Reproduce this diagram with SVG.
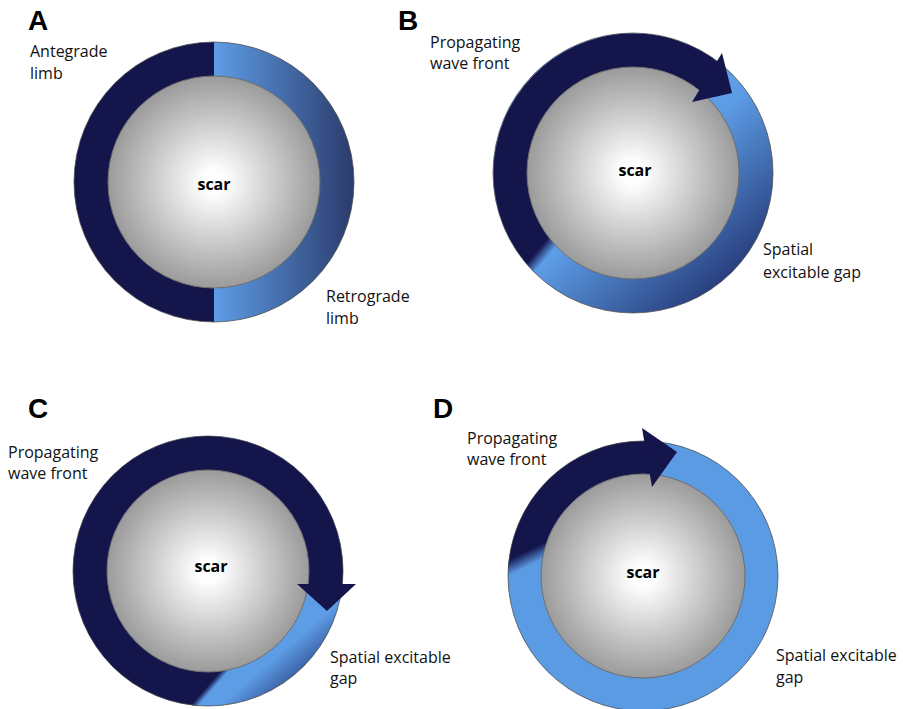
<svg xmlns="http://www.w3.org/2000/svg" width="903" height="709" viewBox="0 0 903 709">
<style>
.dark{fill:#14154b}
.edge{fill:none;stroke:#4a4a4a;stroke-width:1;stroke-opacity:0.75}
.scar{fill:url(#scarGrad);stroke:#6e6e6e;stroke-width:1}
.lbl{font-family:"Open Sans","Noto Sans",sans-serif;font-size:16px;fill:#111}
.scarlbl{font-family:"Open Sans","Noto Sans",sans-serif;font-size:16px;font-weight:bold;text-anchor:middle;fill:#000}
.panel{font-family:"Liberation Sans",Arial,sans-serif;font-size:28px;font-weight:bold;fill:#000}
</style>
<defs>
<radialGradient id="scarGrad" cx="50%" cy="50%" r="50%">
<stop offset="0" stop-color="#ffffff"/>
<stop offset="0.12" stop-color="#fdfdfd"/>
<stop offset="1" stop-color="#9b9b9b"/>
</radialGradient>
<linearGradient id="gA" gradientUnits="userSpaceOnUse" x1="74" y1="0" x2="354" y2="0">
<stop offset="0" stop-color="#14154b"/>
<stop offset="0.5" stop-color="#14154b"/>
<stop offset="0.5" stop-color="#5d9de6"/>
<stop offset="1" stop-color="#2b3b6c"/>
</linearGradient>
<linearGradient id="gB" gradientUnits="userSpaceOnUse" x1="733" y1="100" x2="818" y2="198">
<stop offset="0" stop-color="#5d9de6"/>
<stop offset="1" stop-color="#29407f"/>
</linearGradient>
<linearGradient id="gC" gradientUnits="userSpaceOnUse" x1="327" y1="612" x2="353" y2="642">
<stop offset="0" stop-color="#5d9de6"/>
<stop offset="1" stop-color="#2c4688"/>
</linearGradient>
<linearGradient id="bB" gradientUnits="userSpaceOnUse" x1="537.4" y1="250.2" x2="546.6" y2="257.8">
<stop offset="0" stop-color="#14154b"/>
<stop offset="1" stop-color="#5d9de6"/>
</linearGradient>
<linearGradient id="bC" gradientUnits="userSpaceOnUse" x1="207.5" y1="686" x2="212.1" y2="690">
<stop offset="0" stop-color="#14154b"/>
<stop offset="1" stop-color="#5d9de6"/>
</linearGradient>
<linearGradient id="bD" gradientUnits="userSpaceOnUse" x1="523.1" y1="552.9" x2="529.3" y2="565.5">
<stop offset="0" stop-color="#14154b"/>
<stop offset="1" stop-color="#5b9be4"/>
</linearGradient>
<clipPath id="clipB"><circle cx="633" cy="173" r="140"/></clipPath>
<clipPath id="clipC"><circle cx="208" cy="571" r="135"/></clipPath>
<clipPath id="clipD"><circle cx="643" cy="576" r="135"/></clipPath>
</defs>

<g id="panelA">
<text class="panel" x="28" y="30">A</text>
<g id="ringA">
<circle cx="214" cy="182" r="140" fill="url(#gA)"/>
<circle class="edge" cx="214" cy="182" r="140"/>
</g>
<g id="scarA">
<circle class="scar" cx="214" cy="182" r="106"/>
<text class="scarlbl" x="214" y="190">scar</text>
</g>
<text class="lbl" x="30" y="57">Antegrade</text>
<text class="lbl" x="30" y="79">limb</text>
<text class="lbl" x="326" y="302">Retrograde</text>
<text class="lbl" x="326" y="324">limb</text>
</g>

<g id="panelB">
<text class="panel" x="398" y="30">B</text>
<g id="ringB">
<circle cx="633" cy="173" r="140" fill="url(#gB)"/>
<path class="dark" d="M529.5,267.2 A140,140 0 0 1 723,65.8 L701.1,91.8 A106,106 0 0 0 553.2,242.8 Z"/>
<polygon clip-path="url(#clipB)" fill="url(#bB)" points="519.4,270.2 555.4,230.2 564.6,237.8 528.6,277.8"/>
<circle class="edge" cx="633" cy="173" r="140"/>
</g>
<g id="scarB">
<circle class="scar" cx="633" cy="173" r="106"/>
<text class="scarlbl" x="635" y="176">scar</text>
</g>
<polygon id="arrowB" class="dark" points="722,53 732,93 692,102"/>
<text class="lbl" x="430" y="48">Propagating</text>
<text class="lbl" x="430" y="69">wave front</text>
<text class="lbl" x="763" y="255">Spatial</text>
<text class="lbl" x="763" y="278">excitable gap</text>
</g>

<g id="panelC">
<text class="panel" x="28" y="418">C</text>
<g id="ringC">
<circle cx="208" cy="571" r="135" fill="url(#gC)"/>
<path class="dark" d="M194.8,705.4 A135,135 0 1 1 342.4,584 L308.2,584 A101,101 0 1 0 224.8,670.6 Z"/>
<polygon clip-path="url(#clipC)" fill="url(#bC)" points="185.7,711 232.7,657 237.3,661 190.3,715"/>
<circle class="edge" cx="208" cy="571" r="135"/>
</g>
<g id="scarC">
<circle class="scar" cx="208" cy="571" r="101"/>
<text class="scarlbl" x="211" y="572">scar</text>
</g>
<polygon id="arrowC" class="dark" points="297,584 356,584 327,611"/>
<text class="lbl" x="8" y="458">Propagating</text>
<text class="lbl" x="8" y="479">wave front</text>
<text class="lbl" x="330" y="663">Spatial excitable</text>
<text class="lbl" x="330" y="684">gap</text>
</g>

<g id="panelD">
<text class="panel" x="433" y="418">D</text>
<g id="ringD">
<circle cx="643" cy="576" r="135" fill="#5b9be4"/>
<path class="dark" d="M508.2,568 A135,135 0 0 1 645,441 L651,474.2 A102,102 0 0 0 544.3,550.3 Z"/>
<polygon clip-path="url(#clipD)" fill="url(#bD)" points="496.9,565.7 548.9,540.2 555.1,552.8 503.1,578.3"/>
<circle class="edge" cx="643" cy="576" r="135"/>
</g>
<g id="scarD">
<circle class="scar" cx="643" cy="576" r="102"/>
<text class="scarlbl" x="643" y="578">scar</text>
</g>
<polygon id="arrowD" class="dark" points="642,428 677,452 652,487"/>
<text class="lbl" x="467" y="444">Propagating</text>
<text class="lbl" x="467" y="465">wave front</text>
<text class="lbl" x="776" y="661">Spatial excitable</text>
<text class="lbl" x="776" y="683">gap</text>
</g>
</svg>
